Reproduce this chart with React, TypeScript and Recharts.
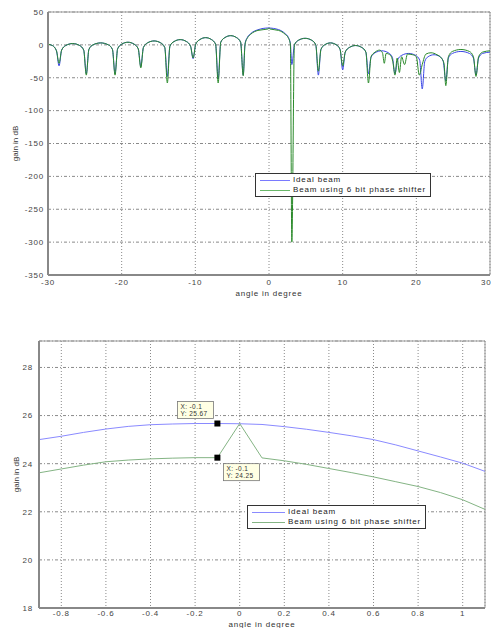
import React from "react"
import {
  LineChart, Line, XAxis, YAxis, CartesianGrid, ReferenceArea, ReferenceDot,
} from "recharts"

// full pattern, [angle in degree, gain in dB]
const idealBeam: [number, number][] = [
  [-30, 1], [-29.4, -1], [-28.85, -9], [-28.5, -32],
  [-28.15, -8], [-27.6, -1], [-26.65, 2], [-25.7, -1], [-25.15, -8], [-24.8, -44],
  [-24.45, -7], [-23.9, 0], [-22.85, 3], [-21.8, 0], [-21.25, -7], [-20.9, -44],
  [-20.55, -6], [-20.0, 1], [-19.15, 4], [-18.3, 1], [-17.75, -6], [-17.4, -33],
  [-17.05, -4], [-16.5, 3], [-15.6, 6], [-14.7, 3], [-14.15, -4], [-13.8, -48],
  [-13.45, -2], [-12.9, 5], [-12.05, 8], [-11.2, 5], [-10.65, -2], [-10.3, -21],
  [-9.95, 1], [-9.4, 8], [-8.6, 11], [-7.8, 8], [-7.25, 1], [-6.9, -52],
  [-6.55, 4], [-6.0, 11], [-5.2, 14], [-4.4, 11], [-3.85, 4], [-3.5, -46],
  [-3.25, 2], [-2.9, 12], [-2.5, 17], [-1.5, 23], [-0.1, 25.67], [1.3, 23.2], [2.2, 17], [2.6, 12], [2.9, 2], [3.1, -30],
  [3.45, 0], [4.0, 7], [4.9, 10], [5.8, 7], [6.35, 0], [6.7, -46],
  [7.05, -7], [7.55, 0], [8.35, 3], [9.15, 0], [9.65, -7], [10.0, -38],
  [10.35, -11], [10.9, -4], [11.75, -1], [12.6, -4], [13.15, -11], [13.5, -44],
  [13.85, -19], [14.4, -12], [15.3, -9], [16.2, -12], [16.75, -19], [17.1, -44],
  [17.45, -23], [18.0, -16], [18.95, -13], [19.9, -16], [20.45, -23], [20.8, -67],
  [21.15, -25], [21.6, -18], [22.4, -15], [23.2, -18], [23.65, -25], [24.0, -55],
  [24.35, -20], [24.9, -13], [26.05, -10], [27.2, -13], [27.75, -20], [28.1, -46],
  [28.45, -20], [29.0, -13], [30, -11],
]

const shifterBeam: [number, number][] = [
  [-30, 1], [-29.4, -1], [-28.85, -9], [-28.5, -28],
  [-28.15, -8], [-27.6, -1], [-26.65, 2], [-25.7, -1], [-25.15, -8], [-24.8, -46],
  [-24.45, -7], [-23.9, 0], [-22.85, 3], [-21.8, 0], [-21.25, -7], [-20.9, -46],
  [-20.55, -6], [-20.0, 1], [-19.15, 4], [-18.3, 1], [-17.75, -6], [-17.4, -35],
  [-17.05, -4], [-16.5, 3], [-15.6, 6], [-14.7, 3], [-14.15, -4], [-13.8, -58],
  [-13.45, -2], [-12.9, 5], [-12.05, 8], [-11.2, 5], [-10.65, -2], [-10.3, -20],
  [-9.95, 1], [-9.4, 8], [-8.6, 11], [-7.8, 8], [-7.25, 1], [-6.9, -58],
  [-6.55, 4], [-6.0, 11], [-5.2, 14], [-4.4, 11], [-3.85, 4], [-3.5, -47],
  [-3.25, 1], [-2.9, 11], [-2.5, 16], [-1.5, 22], [-0.1, 24.25], [0, 25.67], [0.1, 24.24], [1.3, 22], [2.2, 16], [2.6, 11], [2.9, 1], [3.1, -300],
  [3.45, 0], [4.0, 7], [4.9, 10], [5.8, 7], [6.35, 0], [6.7, -40],
  [7.05, -7], [7.55, 0], [8.35, 3], [9.15, 0], [9.65, -7], [10.0, -32],
  [10.35, -11], [10.9, -4], [11.75, -1], [12.6, -4], [13.15, -11], [13.5, -58],
  [13.85, -18], [14.4, -11], [15.0, -8], [15.4, -12], [15.65, -28], [15.9, -13], [16.5, -16], [16.8, -25], [17.1, -46],
  [17.4, -20], [17.7, -42], [18.0, -18], [18.4, -30], [18.8, -14], [19.5, -15], [20.0, -18], [20.4, -46], [20.8, -30],
  [21.3, -14], [22.0, -12], [22.8, -15], [23.4, -20], [23.75, -28], [24.0, -62],
  [24.35, -18], [24.9, -10], [26.05, -7], [27.2, -10], [27.75, -18], [28.1, -48],
  [28.45, -18], [29.0, -11], [30, -9],
]

// close-up around the main lobe, 0.1 degree steps
const zoomAngles = [-0.9, -0.8, -0.7, -0.6, -0.5, -0.4, -0.3, -0.2, -0.1, 0, 0.1, 0.2, 0.3, 0.4, 0.5, 0.6, 0.7, 0.8, 0.9, 1.0, 1.1]
const zoomIdeal = [25.0, 25.14, 25.3, 25.44, 25.55, 25.62, 25.65, 25.67, 25.67, 25.66, 25.63, 25.54, 25.43, 25.3, 25.16, 25.0, 24.78, 24.53, 24.28, 24.02, 23.68]
const zoomShifter = [23.62, 23.78, 23.94, 24.08, 24.15, 24.2, 24.23, 24.25, 24.25, 25.67, 24.24, 24.12, 23.97, 23.8, 23.63, 23.45, 23.25, 23.05, 22.8, 22.5, 22.1]

const fullXTicks = [-30, -20, -10, 0, 10, 20, 30]
const fullYTicks = [-350, -300, -250, -200, -150, -100, -50, 0, 50]
const zoomXTicks = [-0.8, -0.6, -0.4, -0.2, 0, 0.2, 0.4, 0.6, 0.8, 1]
const zoomYTicks = [18, 20, 22, 24, 26, 28]

const seriesNames = ["Ideal beam", "Beam using 6 bit phase shifter"]
const tipIndex = 8 // -0.1 degree

const FONT = "'Liberation Sans', Arial, sans-serif"
const tickStyle = { fontSize: 8, fill: "#444", letterSpacing: 0.8 }

const toPoints = (arr: [number, number][]) => arr.map(([a, g]) => ({ a, g }))
const zoomPoints = (vals: number[]) => zoomAngles.map((a, i) => ({ a, g: vals[i] }))

function gainTitle(x: number) {
  return ({ viewBox }: any) => {
    const cy = viewBox.y + viewBox.height / 2
    return (
      <text x={x} y={cy} transform={`rotate(-90 ${x} ${cy})`} textAnchor="middle"
        dominantBaseline="central" fontSize={8} fill="#333">
        gain in dB
      </text>
    )
  }
}

// boxed legend sitting over the plot area
function BeamLegend({ colors, lineW, left, top }: { colors: string[]; lineW: number; left: number; top: number }) {
  return (
    <div style={{
      position: "absolute", left, top,
      background: "#fff", border: "1px solid #333", padding: "1px 4px",
      fontSize: 8, letterSpacing: 0.85, lineHeight: "10px", color: "#222",
      whiteSpace: "nowrap", fontFamily: FONT,
    }}>
      {seriesNames.map((n, i) => (
        <div key={n} style={{ display: "flex", alignItems: "center" }}>
          <span style={{ display: "inline-block", width: lineW, borderTop: `1px solid ${colors[i]}`, marginRight: 3 }} />
          {n}
        </div>
      ))}
    </div>
  )
}

function DataTip({ cx, cy, dx, dy, x, y }: any) {
  const bx = cx + dx
  const by = cy + dy
  return (
    <g>
      <rect x={cx - 3} y={cy - 3} width={6} height={6} fill="#000" />
      <rect x={bx} y={by} width={36} height={17} fill="#ffffe4" stroke="#777" strokeWidth={0.8} />
      <text x={bx + 3} y={by + 7} fontSize={6.5} letterSpacing={0.4} fill="#333">X: {x}</text>
      <text x={bx + 3} y={by + 14.5} fontSize={6.5} letterSpacing={0.4} fill="#333">Y: {y}</text>
    </g>
  )
}

export default function App() {
  const topColors = ["#3a46e6", "#2a8a2a"]
  const zoomColors = ["#8a8aff", "#84b484"]
  const tipX = zoomAngles[tipIndex]

  return (
    <div style={{ position: "absolute", left: 0, top: 0, width: 491, height: 628, background: "#fff", fontFamily: FONT }}>
      <div style={{ position: "absolute", left: 0, top: 0 }}>
        <LineChart width={491} height={300} margin={{ top: 12, right: 1, bottom: 0, left: 0 }}>
          <CartesianGrid vertical={false} stroke="#8a8a8a" strokeDasharray="3 2 1 2" />
          <CartesianGrid horizontal={false} stroke="#8a8a8a" strokeDasharray="1 2" />
          <ReferenceArea x1={-30} x2={30} y1={-350} y2={50} fill="none" stroke="#999" ifOverflow="visible" />
          <XAxis type="number" dataKey="a" domain={[-30, 30]} ticks={fullXTicks} height={25}
            tick={tickStyle} tickLine={false} tickSize={2} tickMargin={2}
            axisLine={{ stroke: "#888", strokeWidth: 2 }}
            label={{ value: "angle in degree", position: "insideBottom", offset: 4, fontSize: 8, fill: "#333", letterSpacing: 0.8 }} />
          <YAxis type="number" dataKey="g" domain={[-350, 50]} ticks={fullYTicks} width={48}
            tick={tickStyle} tickLine={false} tickSize={2} tickMargin={2}
            axisLine={{ stroke: "#888", strokeWidth: 2 }}
            label={{ content: gainTitle(15) }} />
          <Line data={toPoints(idealBeam)} dataKey="g" name={seriesNames[0]} type="monotone"
            stroke={topColors[0]} strokeWidth={1} dot={false} isAnimationActive={false} />
          <Line data={toPoints(shifterBeam)} dataKey="g" name={seriesNames[1]} type="monotone"
            stroke={topColors[1]} strokeWidth={1} dot={false} isAnimationActive={false} />
        </LineChart>
      </div>
      <BeamLegend colors={["#7a7aff", "#6ab86a"]} lineW={30} left={255} top={173} />

      <div style={{ position: "absolute", left: 0, top: 320 }}>
        <LineChart width={491} height={308} margin={{ top: 21, right: 6, bottom: 0, left: 0 }}>
          <CartesianGrid vertical={false} stroke="#8a8a8a" strokeDasharray="3 2 1 2" />
          <CartesianGrid horizontal={false} stroke="#8a8a8a" strokeDasharray="1 2" />
          <ReferenceArea x1={-0.9} x2={1.1} y1={18} y2={29.1} fill="none" stroke="#999" ifOverflow="visible" />
          <XAxis type="number" dataKey="a" domain={[-0.9, 1.1]} ticks={zoomXTicks} height={20}
            tick={tickStyle} tickLine={false} tickSize={0} tickMargin={2}
            axisLine={{ stroke: "#888", strokeWidth: 2 }}
            label={{ value: "angle in degree", position: "insideBottom", offset: 1, fontSize: 8, fill: "#333", letterSpacing: 0.8 }} />
          <YAxis type="number" dataKey="g" domain={[18, 29.1]} ticks={zoomYTicks} width={39} allowDataOverflow
            tick={tickStyle} tickLine={false} tickSize={2} tickMargin={4}
            axisLine={{ stroke: "#888", strokeWidth: 2 }}
            label={{ content: gainTitle(16) }} />
          <Line data={zoomPoints(zoomIdeal)} dataKey="g" name={seriesNames[0]} type="linear"
            stroke={zoomColors[0]} strokeWidth={1} dot={false} isAnimationActive={false} />
          <Line data={zoomPoints(zoomShifter)} dataKey="g" name={seriesNames[1]} type="linear"
            stroke={zoomColors[1]} strokeWidth={1} dot={false} isAnimationActive={false} />
          <ReferenceDot x={tipX} y={zoomIdeal[tipIndex]} r={3}
            shape={(p: any) => <DataTip cx={p.cx} cy={p.cy} dx={-40} dy={-22} x={tipX} y={zoomIdeal[tipIndex]} />} />
          <ReferenceDot x={tipX} y={zoomShifter[tipIndex]} r={3}
            shape={(p: any) => <DataTip cx={p.cx} cy={p.cy} dx={6} dy={6} x={tipX} y={zoomShifter[tipIndex]} />} />
        </LineChart>
      </div>
      <BeamLegend colors={zoomColors} lineW={33} left={247} top={505} />
    </div>
  )
}
